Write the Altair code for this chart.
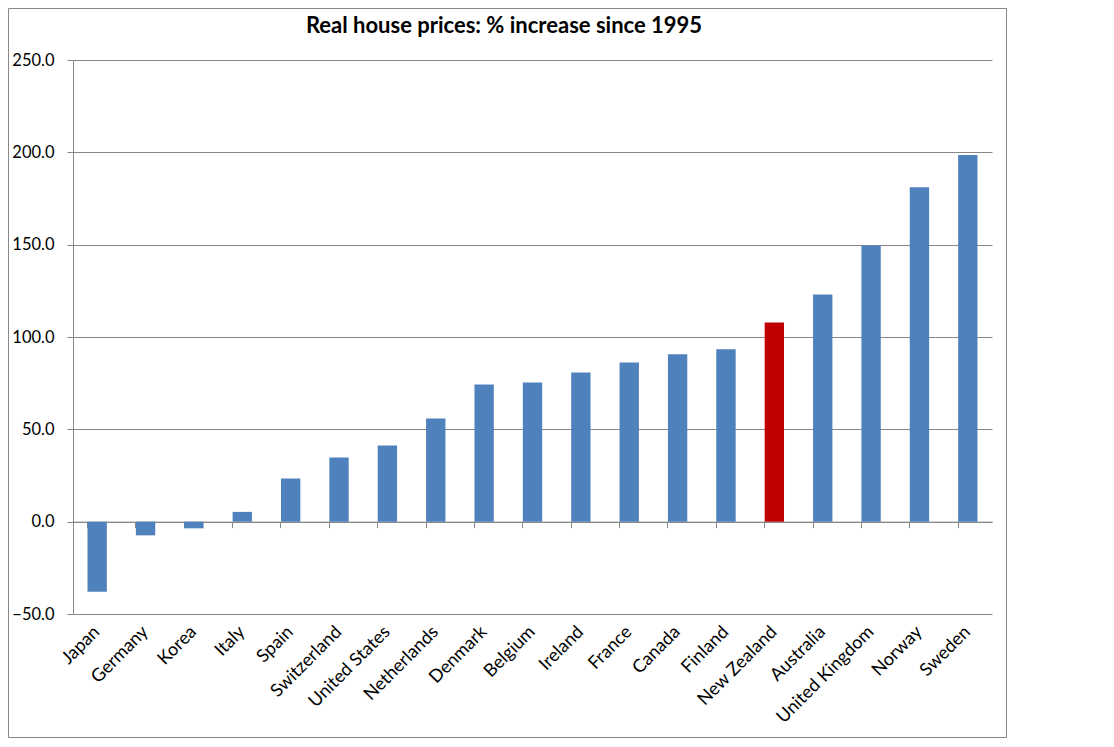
import altair as alt
import pandas as pd

title_text = "Real house prices: % increase since 1995"
countries = ["Japan", "Germany", "Korea", "Italy", "Spain", "Switzerland",
             "United States", "Netherlands", "Denmark", "Belgium", "Ireland",
             "France", "Canada", "Finland", "New Zealand", "Australia",
             "United Kingdom", "Norway", "Sweden"]
values = [-37.9, -7.4, -3.6, 5.3, 23.4, 34.8, 41.2, 55.9, 74.3, 75.4, 80.8,
          86.2, 90.6, 93.3, 107.8, 123.0, 149.6, 181.1, 198.5]
y_ticks = [-50, 0, 50, 100, 150, 200, 250]
highlight = "New Zealand"

df = pd.DataFrame({"country": countries, "value": values})

FONT = "Lato"
GRID = "#888888"
W, H = 919, 554
ZERO_OFFSET = -H * 50 / 300

xscale = alt.Scale(paddingInner=0.6, paddingOuter=0.3)
yscale = alt.Scale(domain=[-50, 250], nice=False, zero=False)

bars = alt.Chart(df).mark_bar().encode(
    x=alt.X("country:N", sort=countries, scale=xscale,
            axis=alt.Axis(title=None, labelAngle=-45, labelAlign="right",
                          labelBaseline="middle", labelPadding=15,
                          domain=False, ticks=False, tickSize=0,
                          labelFont=FONT, labelFontSize=18, labelColor="black")),
    y=alt.Y("value:Q", scale=yscale,
            axis=alt.Axis(title=None, values=y_ticks, format=".1f", grid=True,
                          gridColor=GRID, domainColor=GRID, tickColor=GRID,
                          tickSize=6, labelPadding=13, labelFont=FONT,
                          labelFontSize=16.5, labelColor="black")),
    color=alt.condition(alt.datum.country == highlight,
                        alt.value("#C00000"), alt.value("#4F81BD")),
)

zero_axis = alt.Chart(df).mark_bar(opacity=0).encode(
    x=alt.X("country:N", sort=countries, scale=xscale,
            axis=alt.Axis(title=None, orient="bottom", offset=ZERO_OFFSET,
                          labels=False, grid=False, domainColor=GRID,
                          tickColor=GRID, tickSize=6, bandPosition=0)),
    y=alt.Y("value:Q", scale=yscale, axis=None),
)

border = alt.Chart(alt.Data(values=[{}])).mark_rect(
    filled=False, stroke=GRID, strokeWidth=1
).encode(
    x=alt.value(-64.5), x2=alt.value(933.5),
    y=alt.value(-51.5), y2=alt.value(677.5),
)

title = alt.Chart(alt.Data(values=[{"t": title_text}])).mark_text(
    font=FONT, fontSize=22, fontWeight="bold", color="black",
    align="center", baseline="middle"
).encode(text="t:N", x=alt.value(431), y=alt.value(-34))

chart = alt.layer(border, title, bars, zero_axis).resolve_axis(
    x="independent", y="independent"
).properties(
    width=W, height=H,
    autosize=alt.AutoSizeParams(type="none"),
    padding={"left": 65, "top": 52, "right": 15, "bottom": 124},
).configure_view(stroke=None)

chart.save("out.html", embed_options={"renderer": "svg", "actions": False})
